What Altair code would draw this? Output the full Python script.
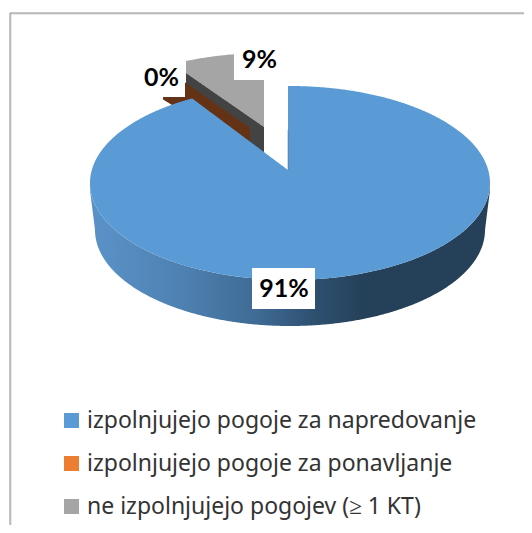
import numpy as np
import pandas as pd
import altair as alt

categories = ["izpolnjujejo pogoje za napredovanje",
              "izpolnjujejo pogoje za ponavljanje",
              "ne izpolnjujejo pogojev (≥ 1 KT)"]
shares = [91, 0, 9]
labels = ["91%", "0%", "9%"]
colors = ["#5b9bd5", "#ed7d31", "#a5a5a5"]

# layout of the tilted pie, in page pixels
CX, CY, A, B = 290, 183, 200, 97
BOT_CY, BOT_A, BOT_B = 230, 195, 96
APEX = (288, 170)
SKEW = 3.1           # degrees added by the perspective of the view
GRAY_DX, GRAY_DY = -24, -33
GRAY_APEX = (264, 127)

X = alt.Scale(domain=[8, 524], range=[0, 516], zero=False, nice=False)
Y = alt.Scale(domain=[8, 525], range=[0, 517], zero=False, nice=False)

def xe(f="x"): return alt.X(f"{f}:Q", scale=X, axis=None)
def ye(f="y"): return alt.Y(f"{f}:Q", scale=Y, axis=None)

def top_arc(x, cx=CX, cy=CY, a=A, b=B):
    return cy - b*np.sqrt(np.clip(1-((x-cx)/a)**2, 0, 1))
def low_arc(x, cx=CX, cy=CY, a=A, b=B):
    return cy + b*np.sqrt(np.clip(1-((x-cx)/a)**2, 0, 1))
def dense(lo, hi, n=220):
    t = np.linspace(0, np.pi, n)
    return lo + (hi-lo)*(1-np.cos(t))/2

def area(x, y, y2, color, **kw):
    df = pd.DataFrame({"x": x, "y": y, "y2": y2})
    return alt.Chart(df).mark_area(color=color, orient="vertical", strokeWidth=0, **kw).encode(
        x=xe(), y=ye(), y2="y2:Q")

# main slice outline
t_end = np.radians(360*shares[0]/100 + SKEW)
ex = CX + A*np.sin(t_end)
ey = CY - B*np.cos(t_end)
xs = dense(CX-A, CX+A, 500)
xs = np.unique(np.concatenate([xs, [ex, APEX[0]-0.01, APEX[0]]]))
upper = top_arc(xs)
mask = (xs > ex) & (xs < APEX[0])
upper[mask] = ey + (APEX[1]-ey)*(xs[mask]-ex)/(APEX[0]-ex)
blue_top = area(xs, upper, low_arc(xs), colors[0])

# rim of the main slice
rx = dense(CX-A, CX+A, 500)
rim_low = BOT_CY + BOT_B*np.sqrt(np.clip(1-((rx-CX)/BOT_A)**2, 0, 1))
edge = np.abs(rx-CX) > BOT_A
rim_low[edge] = (BOT_CY + (190-BOT_CY)*(np.abs(rx[edge]-CX)-BOT_A)/(A-BOT_A))
grad = alt.Gradient(gradient="linear", x1=0, x2=1, y1=0, y2=0, stops=[
    alt.GradientStop(offset=0.0, color="#5a93c9"),
    alt.GradientStop(offset=0.22, color="#4f82b3"),
    alt.GradientStop(offset=0.42, color="#3f6a94"),
    alt.GradientStop(offset=0.55, color="#2f5272"),
    alt.GradientStop(offset=0.68, color="#254159"),
    alt.GradientStop(offset=1.0, color="#254058")])
rim = area(rx, low_arc(rx), rim_low, grad)

# exploded gray slice
gx = np.linspace(186, GRAY_APEX[0], 60)
cut = GRAY_APEX[1] + (gx-GRAY_APEX[0])*(GRAY_APEX[1]-73)/(GRAY_APEX[0]-186)
gray_top = area(gx, top_arc(gx, CX+GRAY_DX, CY+GRAY_DY), cut, colors[2])
gray_side = area(gx, cut, cut+26, "#434343")

# thin orange slice, seen from its side
bx = np.array([163.0, 172.0, 250.0])
brown = area(bx, 67 + (bx-163)*61/87, [99.5, 105.0, 143.0], "#643214")

# notch edge
edge_line = alt.Chart(pd.DataFrame({"x": [APEX[0], APEX[0]], "y": [130, APEX[1]]})).mark_line(
    color="#3d5f80", strokeWidth=0.8, opacity=0.6).encode(x=xe(), y=ye())

# page frame
def rule(x, x2, y, y2, color):
    df = pd.DataFrame({"x": [x], "x2": [x2], "y": [y], "y2": [y2]})
    return alt.Chart(df).mark_rule(color=color, strokeWidth=1).encode(
        x=xe(), x2="x2:Q", y=ye(), y2="y2:Q")
frame = [rule(10.5, 524, 14, 14, "#d4d4d4"), rule(11, 11, 14, 525, "#d4d4d4"),
         rule(10, 524, 13, 13, "#8a8a8a"), rule(10, 10, 13, 525, "#8a8a8a")]

# data label boxes and texts
boxes = pd.DataFrame({"x": [252, 135, 234], "x2": [315, 185, 285],
                      "y": [268, 60, 43], "y2": [309, 97, 80]})
box_marks = alt.Chart(boxes).mark_rect(color="white").encode(
    x=xe(), x2="x2:Q", y=ye(), y2="y2:Q")
lab = pd.DataFrame({"t": labels, "x": [284, 161.5, 259.5], "y": [297, 86, 68]})
lab_marks = alt.Chart(lab).mark_text(font="Lato", fontWeight="bold", fontSize=25,
                                     color="black", align="center", baseline="alphabetic").encode(
    x=xe(), y=ye(), text="t:N")

# legend
leg = pd.DataFrame({"t": categories, "c": colors, "ys": [420.5, 463.5, 506.5],
                    "yt": [428, 471, 514], "xs": [71.5]*3, "xt": [87]*3})
leg_sq = alt.Chart(leg).mark_square(size=225, opacity=1, strokeWidth=0).encode(
    x=xe("xs"), y=ye("ys"),
    color=alt.Color("c:N", scale=None))
leg_tx = alt.Chart(leg).mark_text(font="Noto Sans", fontSize=23, color="#333333", align="left",
                                  baseline="alphabetic").encode(
    x=xe("xt"), y=ye("yt"), text="t:N")

chart = alt.layer(*frame, gray_top, gray_side, brown, rim, blue_top, edge_line,
                  box_marks, lab_marks, leg_sq, leg_tx).properties(
    width=516, height=517, padding=0,
    autosize=alt.AutoSizeParams(type="none"), background="white"
).configure_view(stroke=None)

chart.save("out.html", embed_options={"renderer": "svg", "actions": False})
